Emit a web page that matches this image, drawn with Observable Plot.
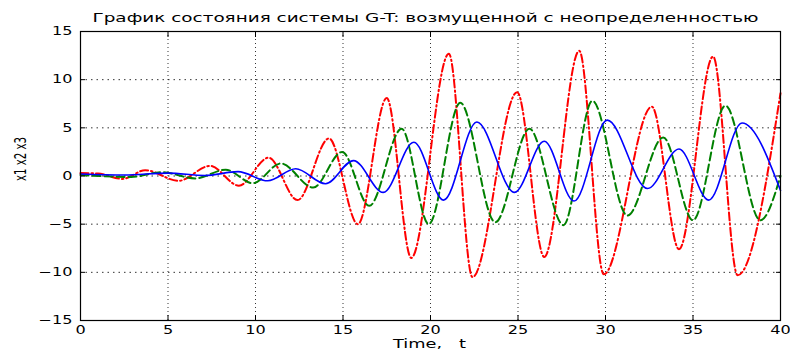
<!DOCTYPE html>
<html>
<head>
<meta charset="utf-8">
<script src="https://cdn.jsdelivr.net/npm/d3@7"></script>
<script src="https://cdn.jsdelivr.net/npm/@observablehq/plot@0.6"></script>
<style>
  html, body { margin: 0; padding: 0; background: #fff; }
  #chart svg { display: block; }
</style>
</head>
<body>
<div id="chart"></div>
<script>
// ---- data ----
const titleText = "График состояния системы G-T: возмущенной с неопределенностью";
const xLabel = "Time,   t";
const yLabel = "x1 x2 x3";
const xTicks = [0, 5, 10, 15, 20, 25, 30, 35, 40];
const yTicks = [-15, -10, -5, 0, 5, 10, 15];

// x3 (red, dash-dot): extrema
const redT = [0, 1.0, 2.4, 3.7, 5.6, 7.4, 9.05, 10.75, 12.4, 14.2, 15.85, 17.5, 18.9, 21.05, 22.4, 24.95, 26.5, 28.5, 29.9, 32.65, 34.2, 36.15, 37.55, 40];
const redV = [0.3, 0.25, -0.3, 0.6, -0.5, 1.05, -1.0, 1.9, -2.5, 3.9, -5.0, 8.1, -8.5, 12.7, -10.5, 8.7, -8.4, 13.0, -10.2, 7.2, -7.6, 12.4, -10.3, 8.6];

// x2 (green, dashed): extrema
const greenT = [0, 2.9, 4.65, 6.55, 8.3, 9.85, 11.45, 13.3, 14.95, 16.5, 18.35, 19.9, 21.7, 23.7, 25.65, 27.6, 29.25, 31.25, 33.3, 35.0, 36.85, 38.85, 40];
const greenV = [0.1, -0.1, 0.4, -0.25, 0.65, -0.75, 1.3, -1.2, 2.5, -3.1, 4.9, -5.0, 7.6, -4.8, 4.9, -5.1, 7.8, -4.1, 4.0, -4.6, 7.3, -4.6, 0];

// x1 (blue, solid): extrema
const blueT = [0, 2.5, 5.0, 7.1, 9.0, 10.7, 12.3, 14.0, 15.6, 17.3, 19.05, 20.75, 22.65, 24.8, 26.5, 28.2, 30.1, 32.4, 34.2, 35.9, 37.8, 40];
const blueV = [0.2, 0.1, 0.3, 0.05, 0.45, -0.5, 0.75, -0.8, 1.6, -1.7, 3.5, -2.5, 5.6, -1.7, 3.6, -2.6, 5.8, -1.3, 2.8, -2.5, 5.5, -1.5];

const toRows = (ts, vs) => ts.map((t, i) => ({t, v: vs[i]}));
const red = toRows(redT, redV);
const green = toRows(greenT, greenV);
const blue = toRows(blueT, blueV);

const font = "DejaVu Sans, sans-serif";

const chart = Plot.plot({
  width: 790,
  height: 349,
  marginLeft: 80,
  marginRight: 10,
  marginTop: 31,
  marginBottom: 29,
  style: {fontFamily: font, background: "#fff", color: "#000"},
  x: {domain: [0, 40]},
  y: {domain: [-15, 15]},
  marks: [
    Plot.gridX(xTicks, {stroke: "#000", strokeOpacity: 0.8, strokeDasharray: "1,3"}),
    Plot.gridY(yTicks, {stroke: "#000", strokeOpacity: 0.8, strokeDasharray: "1.5,4"}),
    Plot.line(red, {x: "t", y: "v", stroke: "#ff0000", strokeWidth: 2, curve: "monotone-x", strokeDasharray: "8,3,1.5,3"}),
    Plot.line(green, {x: "t", y: "v", stroke: "#008000", strokeWidth: 2, curve: "monotone-x", strokeDasharray: "8,4"}),
    Plot.line(blue, {x: "t", y: "v", stroke: "#0000ff", strokeWidth: 1.6, curve: "monotone-x"}),
    Plot.frame({stroke: "#000", strokeWidth: 1.2}),
    // inward ticks
    Plot.axisX(xTicks, {anchor: "bottom", tickSize: 5, dy: -5, tickFormat: () => "", label: null}),
    Plot.axisX(xTicks, {anchor: "top", tickSize: 5, dy: 5, tickFormat: () => "", label: null}),
    Plot.axisY(yTicks, {anchor: "left", tickSize: 5, dx: 5, tickFormat: () => "", label: null}),
    Plot.axisY(yTicks, {anchor: "right", tickSize: 5, dx: -5, tickFormat: () => "", label: null}),
    // tick labels
    Plot.axisX(xTicks, {anchor: "bottom", tickSize: 0, tickPadding: 5, fontSize: 11.5, label: null}),
    Plot.axisY(yTicks, {anchor: "left", tickSize: 0, tickPadding: 8, fontSize: 11.5, label: null}),
    // title and axis labels
    Plot.text([titleText], {frameAnchor: "top", dy: -10, lineAnchor: "bottom", fontSize: 11.5, fill: "#000", dx: -5}),
    Plot.text([xLabel], {frameAnchor: "bottom", dy: 27, lineAnchor: "bottom", fontSize: 11.5, fill: "#000", dx: -1}),
    Plot.text([yLabel], {frameAnchor: "left", dx: -60, dy: 5, rotate: -90, fontSize: 16, fill: "#000"})
  ]
});
document.getElementById("chart").appendChild(chart);

// widen / condense glyphs like the reference's bitmap-style font
d3.select(chart).selectAll("text").each(function() {
  const s = this.textContent;
  if (!s) return;
  const len = this.getComputedTextLength();
  let target;
  if (s === titleText) target = 666;
  else if (s === xLabel) target = 73;
  else if (s === yLabel) target = 44;
  else target = len * 1.4;
  this.setAttribute("textLength", target);
  this.setAttribute("lengthAdjust", "spacingAndGlyphs");
});
</script>
</body>
</html>
